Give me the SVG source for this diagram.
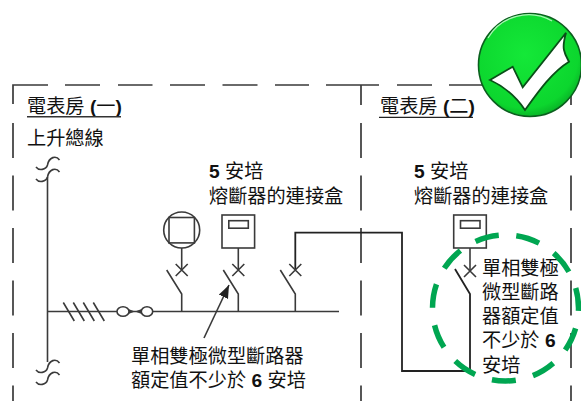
<svg xmlns="http://www.w3.org/2000/svg" width="581" height="401" viewBox="0 0 581 401">
<defs>
<style>
.w{fill:none;stroke:#3a3a3a;stroke-width:1.6}
.h{fill:none;stroke:#222;stroke-width:1.8}
.f{fill:none;stroke:#3a3a3a;stroke-width:1.7}
.d{stroke-dasharray:35 17.5}
text{font-family:"Liberation Sans","Noto Sans CJK TC",sans-serif;font-size:19.2px;fill:#111}
.b{font-weight:bold}
</style>
<radialGradient id="g" cx="0.45" cy="0.4" r="0.65"><stop offset="0" stop-color="#14e838"/><stop offset="0.8" stop-color="#0cd62e"/><stop offset="1" stop-color="#08a524"/></radialGradient>
<marker id="ah" markerWidth="14" markerHeight="11" refX="13" refY="5" orient="auto" markerUnits="userSpaceOnUse"><path d="M0 0L13 5L0 10Z" fill="#222"/></marker>
<g id="sw"><path class="w" d="M0 311V294L-15 270"/><path class="w" d="M-6 264L6 276M6 264L-6 276"/></g>
<g id="bx"><rect class="w" x="-16.3" y="215" width="32.6" height="33"/><rect class="w" x="-9.5" y="220.7" width="19.5" height="7.5"/><path class="w" d="M0 248V270"/></g>
</defs>
<rect width="581" height="401" fill="#fff"/>
<g id="frame">
<path class="f" d="M13 104V85H48M65 85H100M118 85H152.5M170 85H205M222.5 85H257.5M275 85H309M326 85H379M397 85H432M449 85H485"/>
<path class="f" d="M361 85V105M571 95V105"/>
<path class="f d" d="M13 123V401"/>
<path class="f d" d="M361 123V401"/>
<path class="f d" d="M571 123V401"/>
</g>
<g id="connectors">
<path class="w" d="M47.5 177V362M47.5 311.5H339" stroke-width="1.9"/>
<path class="w" d="M63.3 302.5L74.3 321M73.3 302.5L84.3 321M83.3 302.5L94.3 321M93.3 302.5L104.3 321"/>
<path class="w" d="M36 167C39 171 46 170 47.5 165C49 157 56 155 59.5 160M36 179C39 183 46 182 47.5 177C49 169 56 167 59.5 172"/>
<path class="w" d="M36 370C39 374 46 373 47.5 368C49 360 56 358 59.5 363M36 382C39 386 46 385 47.5 380C49 372 56 370 59.5 375"/>
<path d="M123 307L135 311.5L147 307V316L135 311.5L123 316Z" fill="#3a3a3a"/>
<ellipse class="w" cx="123" cy="311.5" rx="6" ry="4.8" fill="#fff" style="fill:#fff"/>
<ellipse class="w" cx="147" cy="311.5" rx="5.7" ry="4.8" style="fill:#fff"/>
<path class="h" d="M295.3 270V232.7H402V371H470V294L455 269"/>
<path class="w" d="M204 338L229 285" marker-end="url(#ah)"/>
</g>
<g id="meter-1">
<circle class="w" cx="181.7" cy="230" r="18"/>
<rect class="w" x="169" y="217.5" width="25.4" height="25.4"/>
<use href="#sw" x="181.7"/>
<path class="w" d="M181.7 248V270"/>
</g>
<g id="fuse-1"><use href="#bx" x="238.3"/><use href="#sw" x="238.3"/></g>
<g id="breaker-1"><use href="#sw" x="295.3"/></g>
<g id="fuse-2">
<use href="#bx" x="470"/>
<path class="w" d="M464 265L476 277M476 265L464 277"/>
</g>
<g id="labels">
<text x="27" y="113">電表房 <tspan class="b">(</tspan>一<tspan class="b">)</tspan></text>
<path d="M27 116.7H121" stroke="#333" stroke-width="1.4"/>
<text x="380" y="113">電表房 <tspan class="b">(</tspan>二<tspan class="b">)</tspan></text>
<path d="M379 117.4H473" stroke="#222" stroke-width="1.4"/>
<text x="27" y="145">上升總線</text>
<text x="209" y="178"><tspan class="b">5</tspan> 安培</text>
<text x="209" y="203">熔斷器的連接盒</text>
<text x="414" y="178"><tspan class="b">5</tspan> 安培</text>
<text x="414" y="203">熔斷器的連接盒</text>
<text x="131" y="363">單相雙極微型斷路器</text>
<text x="131" y="387">額定值不少於 <tspan class="b">6</tspan> 安培</text>
<text x="482" y="275">單相雙極</text>
<text x="482" y="299">微型斷路</text>
<text x="482" y="323">器額定值</text>
<text x="482" y="347">不少於 <tspan class="b">6</tspan></text>
<text x="482" y="372">安培</text>
</g>
<g id="highlight">
<circle cx="505.5" cy="308" r="73" fill="none" stroke="#00a651" stroke-width="5.5" stroke-dasharray="24 17.7" stroke-dashoffset="21"/>
</g>
<g id="tick">
<circle cx="530" cy="65" r="51.5" fill="url(#g)" stroke="#0b5f1e" stroke-width="1.6"/>
<path d="M488 38A47 47 0 0 1 552 21" fill="none" stroke="#a9f5b4" stroke-width="1.2"/>
<path d="M490 80L512.7 66.7L522.7 87.3L566 32.7C564 40 563 46 564 50C565 55 567 58 569 61.7C552 72 538 92 525 110C515 95 503 86 490 80Z" fill="#fff" stroke="#0a4f18" stroke-width="1.8"/>
</g>
</svg>
